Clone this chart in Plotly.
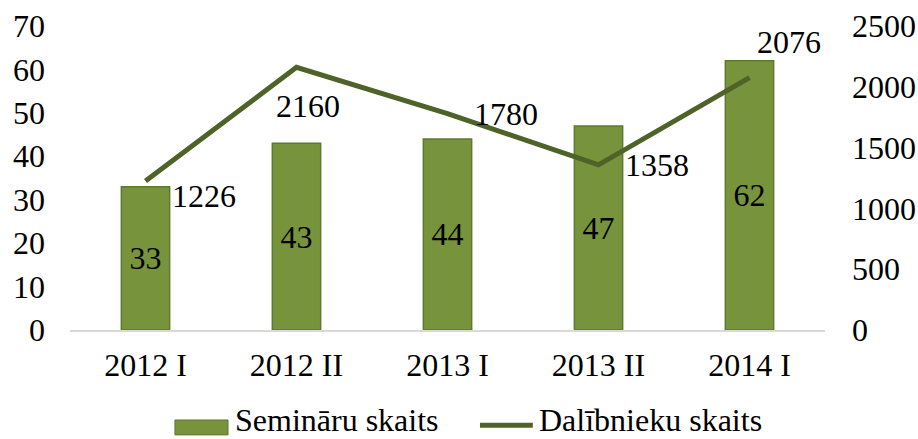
import plotly.graph_objects as go

categories = ["2012 I", "2012 II", "2013 I", "2013 II", "2014 I"]
seminars = [33, 43, 44, 47, 62]
participants = [1226, 2160, 1780, 1358, 2076]
series_names = ["Semināru skaits", "Dalībnieku skaits"]

# label offsets (pixels) for participant labels
lbl_xshift = [24, 11, 24, 24, 39]
lbl_yshift = [-15, -39, 0, 0, 36]
lbl_xanchor = ["left", "center", "left", "left", "center"]

FONT = "Liberation Serif"
FS = 32
BAR_COLOR = "#77933C"
BAR_EDGE = "#5E7A2F"
LINE_COLOR = "#4F6228"

fig = go.Figure()
fig.add_trace(go.Bar(
    x=categories, y=seminars, name=series_names[0],
    marker=dict(color=BAR_COLOR, line=dict(color=BAR_EDGE, width=1.5)),
    width=0.32,
    text=[str(v) for v in seminars], textposition="inside",
    insidetextanchor="middle", textangle=0,
    textfont=dict(family=FONT, size=FS, color="black"),
    yaxis="y", showlegend=False,
))
fig.add_trace(go.Scatter(
    x=categories, y=participants, name=series_names[1],
    mode="lines", line=dict(color=LINE_COLOR, width=5),
    yaxis="y2", showlegend=False,
))

for c, v, xs, ys, xa in zip(categories, participants, lbl_xshift, lbl_yshift, lbl_xanchor):
    fig.add_annotation(x=c, y=v, xref="x", yref="y2", text=str(v),
                       showarrow=False, xanchor=xa, yanchor="middle",
                       xshift=xs, yshift=ys,
                       font=dict(family=FONT, size=FS, color="black"))

# custom legend (wide swatches like the reference)
LEG_TEXT_Y = -0.3586
fig.add_shape(type="rect", xref="paper", yref="paper",
              x0=0.139, x1=0.2093, y0=-0.296, y1=-0.345,
              fillcolor=BAR_COLOR, line=dict(color=BAR_EDGE, width=1))
fig.add_annotation(xref="paper", yref="paper", x=0.2172, y=LEG_TEXT_Y,
                   text=series_names[0], showarrow=False,
                   xanchor="left", yanchor="bottom", borderpad=0,
                   font=dict(family=FONT, size=FS, color="black"))
fig.add_shape(type="line", xref="paper", yref="paper",
              x0=0.543, x1=0.613, y0=-0.313, y1=-0.313,
              line=dict(color=LINE_COLOR, width=5))
fig.add_annotation(xref="paper", yref="paper", x=0.6199, y=LEG_TEXT_Y,
                   text=series_names[1], showarrow=False,
                   xanchor="left", yanchor="bottom", borderpad=0,
                   font=dict(family=FONT, size=FS, color="black"))

fig.update_layout(
    width=918, height=439,
    margin=dict(l=70, r=93, t=26, b=109, autoexpand=False),
    paper_bgcolor="white", plot_bgcolor="white",
    font=dict(family=FONT, size=FS, color="black"),
    showlegend=False,
    xaxis=dict(showgrid=False, showline=True, linecolor="#D9D9D9", linewidth=1.5,
               ticks="", automargin=False, ticklabelstandoff=6,
               tickfont=dict(family=FONT, size=FS)),
    yaxis=dict(range=[0, 70], dtick=10, showgrid=False, zeroline=False,
               showline=False, ticks="", automargin=False, ticklabelstandoff=24,
               tickfont=dict(family=FONT, size=FS)),
    yaxis2=dict(range=[0, 2500], dtick=500, overlaying="y", side="right",
                showgrid=False, zeroline=False, showline=False, ticks="",
                automargin=False, ticklabelstandoff=26,
                tickfont=dict(family=FONT, size=FS)),
)

fig.write_html("out.html", config={"displayModeBar": False},
               post_script="document.body.style.margin='0';document.body.style.overflow='hidden';")
